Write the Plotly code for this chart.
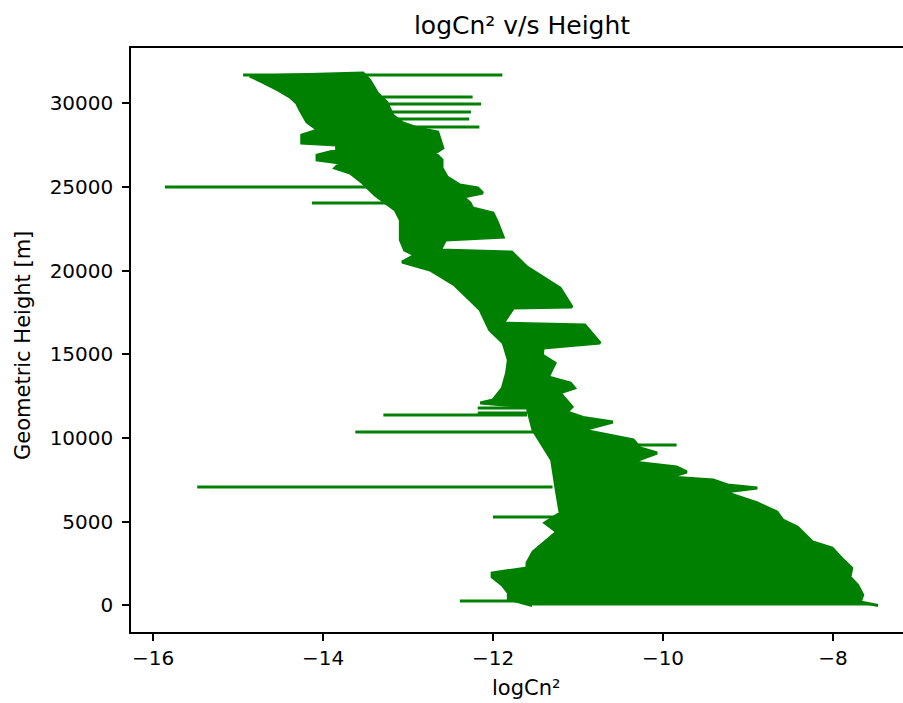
import plotly.graph_objects as go

# Envelope of the densely zig-zagging profile
# Left edge, bottom -> top
left_h = [0, 390, 750, 1220, 1700, 1940, 2240, 2540, 3190, 3790, 4390, 4930, 5520, 6720,
          8690, 10480, 11850, 12090, 12270, 12980, 13880, 14660, 15670, 16450, 17040, 17640,
          18240, 19130, 20030, 20510, 20920, 21220, 21820, 23010, 23610, 24510, 25220, 25820,
          26120, 26420, 26600, 26890, 27190, 27490, 27610, 28090, 28390, 28870, 29580, 30000,
          30360, 30780, 31250, 31610]
left_x = [-11.54, -11.82, -11.82, -11.89, -12.01, -12.01, -11.60, -11.60, -11.53, -11.39,
          -11.25, -11.39, -11.21, -11.25, -11.31, -11.53, -11.60, -12.15, -12.00, -11.89,
          -11.84, -11.82, -11.88, -12.04, -12.09, -12.15, -12.27, -12.45, -12.74, -13.07,
          -12.92, -13.04, -13.09, -13.09, -13.15, -13.39, -13.53, -13.68, -13.86, -13.80,
          -14.07, -14.07, -13.84, -13.84, -14.25, -14.25, -14.06, -14.19, -14.27, -14.31,
          -14.39, -14.53, -14.71, -14.86]

# Right edge, top -> bottom
right_h = [31790, 31370, 30600, 30060, 29280, 28810, 28510, 28270, 27790, 27310, 27010,
           26600, 26120, 25580, 25100, 24930, 24630, 24390, 24030, 23730, 23430, 22900,
           22000, 21820, 21220, 21100, 20210, 18950, 17820, 17760, 16860, 16750, 15670,
           15370, 14960, 14480, 13640, 13280, 12980, 12690, 11850, 11550, 11220, 10950,
           10480, 10060, 9880, 9400, 9100, 8570, 8270, 7970, 7670, 7490, 7190, 7010, 6770,
           6120, 5580, 5100, 4690, 3790, 3430, 2720, 2240, 1700, 1220, 630, 210, 0]
right_x = [-13.53, -13.45, -13.36, -13.25, -13.18, -13.06, -12.89, -12.65, -12.62, -12.59,
           -12.68, -12.60, -12.60, -12.54, -12.39, -12.18, -12.12, -12.35, -12.27, -12.24,
           -12.00, -11.95, -11.88, -12.56, -12.62, -11.78, -11.60, -11.21, -11.07, -11.76,
           -11.88, -10.92, -10.74, -11.41, -11.42, -11.27, -11.35, -11.09, -11.04, -11.21,
           -11.07, -11.13, -10.94, -10.59, -10.94, -10.51, -10.35, -10.27, -10.07, -10.35,
           -9.84, -9.72, -9.92, -9.41, -9.24, -8.89, -9.27, -8.89, -8.66, -8.59, -8.42,
           -8.24, -8.01, -7.88, -7.78, -7.80, -7.71, -7.65, -7.68, -7.47]

# Isolated horizontal excursions of the line
spike_h = [31670, 30360, 29940, 29460, 29040, 28570, 24980, 24030, 11790, 11490, 11370,
           10360, 9580, 7070, 5280, 270]
spike_x0 = [-14.94, -13.30, -13.30, -13.25, -13.20, -13.10, -15.86, -14.13, -12.18, -12.18,
            -13.29, -13.62, -10.40, -15.48, -12.00, -12.39]
spike_x1 = [-11.89, -12.24, -12.14, -12.26, -12.28, -12.16, -13.40, -13.20, -11.60, -11.60,
            -11.60, -11.50, -9.84, -11.30, -11.20, -11.60]

GREEN = "#008000"
FONT = "DejaVu Sans"
TXT = "#000000"

poly_x = left_x + right_x
poly_y = left_h + right_h

sx, sy = [], []
for h, a, b in zip(spike_h, spike_x0, spike_x1):
    sx += [a, b, None]
    sy += [h, h, None]

fig = go.Figure()
fig.add_trace(go.Scatter(x=poly_x, y=poly_y, mode="lines", fill="toself",
                         fillcolor=GREEN, line=dict(color=GREEN, width=3),
                         hoverinfo="skip", showlegend=False))
fig.add_trace(go.Scatter(x=sx, y=sy, mode="lines", line=dict(color=GREEN, width=3),
                         hoverinfo="skip", showlegend=False))

W, H = 903, 703
L, T, B = 131, 48, 71
pw, ph = W - L, H - T - B

fig.update_layout(
    width=W, height=H,
    margin=dict(l=L, r=0, t=T, b=B, pad=0),
    paper_bgcolor="white", plot_bgcolor="white",
    font=dict(family=FONT, size=20, color=TXT),
    title=dict(text="logCn² v/s Height", x=522 / W, xanchor="center",
               y=1 - 25 / H, yanchor="middle", yref="container",
               font=dict(family=FONT, size=25, color=TXT)),
    xaxis=dict(range=[-16.259, -16 + (W - 153) / 85], tickmode="linear", tick0=-16, dtick=2,
               showgrid=False, zeroline=False, showline=True, linecolor=TXT,
               linewidth=1.5, mirror=True, ticks="outside", ticklen=7, tickwidth=1.5,
               tickcolor=TXT, tickfont=dict(family=FONT, size=20, color=TXT)),
    yaxis=dict(range=[-1585, 33285], tickmode="linear", tick0=0, dtick=5000,
               tickformat="d", showgrid=False, zeroline=False, showline=True,
               linecolor=TXT, linewidth=1.5, ticks="outside", ticklen=7,
               tickwidth=1.5, tickcolor=TXT, ticklabelstandoff=5,
               tickfont=dict(family=FONT, size=20, color=TXT)),
    annotations=[
        dict(text="logCn²", xref="paper", yref="paper", x=(526 - L) / pw,
             y=-(688 - (T + ph)) / ph, xanchor="center", yanchor="middle",
             showarrow=False, font=dict(family=FONT, size=21, color=TXT)),
        dict(text="Geometric Height [m]", xref="paper", yref="paper",
             x=(23 - L) / pw, y=(632 - 346) / ph, xanchor="center", yanchor="middle",
             textangle=-90, showarrow=False,
             font=dict(family=FONT, size=21, color=TXT)),
    ],
)

fig.write_html("out.html")
